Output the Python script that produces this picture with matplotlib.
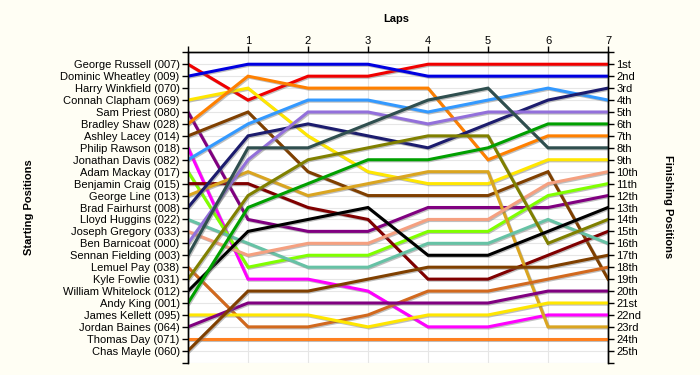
import matplotlib
matplotlib.use("Agg")
import matplotlib.pyplot as plt
import matplotlib.patheffects as pe

# starting grid, top to bottom
drivers = [
    "George Russell (007)", "Dominic Wheatley (009)", "Harry Winkfield (070)",
    "Connah Clapham (069)", "Sam Priest (080)", "Bradley Shaw (028)",
    "Ashley Lacey (014)", "Philip Rawson (018)", "Jonathan Davis (082)",
    "Adam Mackay (017)", "Benjamin Craig (015)", "George Line (013)",
    "Brad Fairhurst (008)", "Lloyd Huggins (022)", "Joseph Gregory (033)",
    "Ben Barnicoat (000)", "Sennan Fielding (003)", "Lemuel Pay (038)",
    "Kyle Fowlie (031)", "William Whitelock (012)", "Andy King (001)",
    "James Kellett (095)", "Jordan Baines (064)", "Thomas Day (071)",
    "Chas Mayle (060)",
]

laps = [0, 1, 2, 3, 4, 5, 6, 7]

# position after each lap (lap 0 = grid); None = no line drawn
positions = [
    [1, 4, 2, 2, 1, 1, 1, 1],
    [2, 1, 1, 1, 2, 2, 2, 2],
    None,
    [4, 3, 7, 10, 11, 11, 9, 9],
    [5, 14, 15, 15, 13, 13, 13, 12],
    [6, 2, 3, 3, 3, 9, 7, 7],
    [7, 5, 10, 12, 12, 12, 10, 19],
    [8, 19, 19, 20, 23, 23, 22, 22],
    [9, 6, 4, 4, 5, 4, 3, 4],
    [10, 18, 17, 17, 15, 15, 12, 11],
    [11, 11, 13, 14, 19, 19, 17, 15],
    [12, 10, 12, 11, 10, 10, 23, 23],
    [13, 7, 6, 7, 8, 6, 4, 3],
    [14, 16, 18, 18, 16, 16, 14, 16],
    [15, 17, 16, 16, 14, 14, 11, 10],
    [16, 9, 5, 5, 6, 5, 5, 5],
    [17, 8, 8, 6, 4, 3, 8, 8],
    [18, 23, 23, 22, 20, 20, 19, 18],
    [19, 12, 9, 8, 7, 7, 16, 14],
    [20, 15, 14, 13, 17, 17, 15, 13],
    [21, 13, 11, 9, 9, 8, 6, 6],
    [22, 22, 22, 23, 22, 22, 21, 21],
    [23, 21, 21, 21, 21, 21, 20, 20],
    [24, 24, 24, 24, 24, 24, 24, 24],
    [25, 20, 20, 19, 18, 18, 18, 17],
]

colors = [
    "#f00000", "#0000e0", None, "#ffe600", "#800080", "#ff8000",
    "#804000", "#ff00ff", "#3399ff", "#80ff00", "#800000", "#daa520",
    "#1c1c6e", "#66c2a5", "#f5a080", "#9370db", "#2f4f4f", "#d2691e",
    "#808000", "#000000", "#00a000", "#ffe600", "#800080", "#ff8020",
    "#804000",
]

finish_labels = ["1st", "2nd", "3rd"] + [f"{i}th" for i in range(4, 21)] + \
    ["21st", "22nd", "23rd", "24th", "25th"]

n = len(drivers)
bg = "#fffef4"

fig = plt.figure(figsize=(7, 3.75), dpi=100, facecolor=bg)
ax = fig.add_axes([188 / 700, 1 - 362.7 / 375, 420 / 700, 310.4 / 375])
ax.set_facecolor("white")

shadow = [pe.SimpleLineShadow(offset=(0.8, -0.8), shadow_color="0.45", alpha=0.45),
          pe.Normal()]
for pos, col in zip(positions, colors):
    if pos is None:
        continue
    ax.plot(laps, pos, color=col, lw=2.2, solid_joinstyle="miter",
            path_effects=shadow, zorder=3)

ax.set_xlim(0, 7)
ax.set_ylim(n + 1, 0)

# top axis: laps
ax.xaxis.tick_top()
ax.set_xticks(laps)
ax.set_xticklabels([""] + [str(l) for l in laps[1:]])

yticks = list(range(0, n + 2))
ax.set_yticks(yticks)
ax.set_yticklabels([""] + drivers + [""])

ax2 = ax.twinx()
ax2.set_ylim(n + 1, 0)
ax2.set_yticks(yticks)
ax2.set_yticklabels([""] + finish_labels + [""])

for a in (ax, ax2):
    a.tick_params(direction="out", length=4.5, width=1, labelsize=8,
                  pad=1.5, color="black", labelcolor="black")
    a.spines["bottom"].set_visible(False)
    for s in ("top", "left", "right"):
        a.spines[s].set_linewidth(1)
ax.tick_params(axis="x", length=4, pad=0.5)

ax.grid(True, color="#e6e6e6", lw=0.8, zorder=0)
ax.set_axisbelow(True)

for lab in ax.get_yticklabels() + ax2.get_yticklabels() + ax.get_xticklabels():
    lab.set_family(["Liberation Sans", "DejaVu Sans"])

fig.text(396 / 700, 1 - 18.5 / 375, "Laps", ha="center", va="center",
         fontsize=8, fontweight="bold", family="Liberation Sans")
fig.text(29 / 700, 1 - 207 / 375, "Starting Positions", ha="center", va="center",
         rotation=90, fontsize=8, fontweight="bold", family="Liberation Sans")
fig.text(668 / 700, 1 - 207 / 375, "Finishing Positions", ha="center", va="center",
         rotation=270, fontsize=8, fontweight="bold", family="Liberation Sans")

fig.savefig("out.png", dpi=100, facecolor=bg)
